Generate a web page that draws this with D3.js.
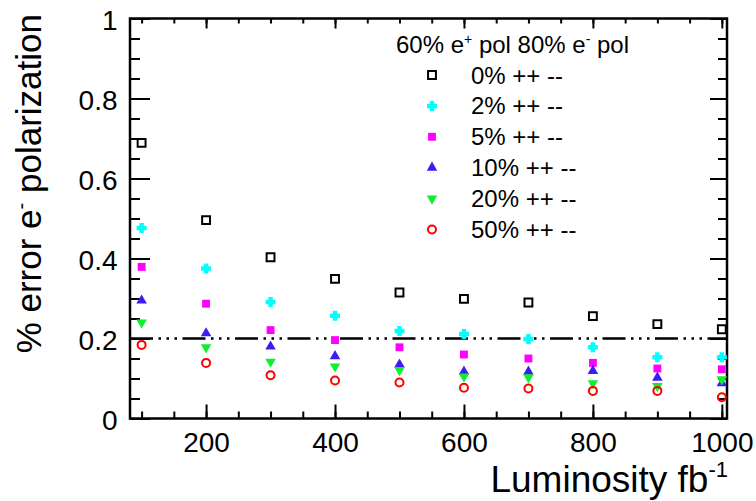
<!DOCTYPE html>
<html>
<head>
<meta charset="utf-8">
<script src="https://cdn.jsdelivr.net/npm/d3@7"></script>
<style>
	body { margin: 0; background: #fff; }
	svg { display: block; font-family: "Liberation Sans", Arial, Helvetica, sans-serif; }
	text { fill: #000; }
</style>
</head>
<body>
<div id="vis"></div>
<script>
// data (error on e- polarization vs luminosity)
var lumi = [100, 200, 300, 400, 500, 600, 700, 800, 900, 1000];
var err0 = [0.689, 0.496, 0.403, 0.349, 0.315, 0.299, 0.290, 0.256, 0.236, 0.223];
var err2 = [0.476, 0.375, 0.291, 0.257, 0.219, 0.211, 0.199, 0.178, 0.153, 0.153];
var err5 = [0.379, 0.287, 0.221, 0.196, 0.178, 0.160, 0.150, 0.139, 0.125, 0.123];
var err10 = [0.295, 0.213, 0.180, 0.156, 0.135, 0.117, 0.117, 0.119, 0.102, 0.088];
var err20 = [0.240, 0.178, 0.142, 0.130, 0.121, 0.105, 0.103, 0.088, 0.081, 0.098];
var err50 = [0.184, 0.139, 0.108, 0.095, 0.090, 0.077, 0.075, 0.069, 0.069, 0.053];

var seriesNames = ['0% ++ --', '2% ++ --', '5% ++ --', '10% ++ --', '20% ++ --', '50% ++ --'];
var seriesValues = [err0, err2, err5, err10, err20, err50];

var xMajor = [200, 400, 600, 800, 1000];
var xMajorLabels = ['200', '400', '600', '800', '1000'];
var yMajor = [0, 0.2, 0.4, 0.6, 0.8, 1];
var yMajorLabels = ['0', '0.2', '0.4', '0.6', '0.8', '1'];
var limitLine = 0.2;

var width = 756, height = 501;

var svg = d3.select('#vis').append('svg')
	.attr('width', width)
	.attr('height', height);

var x = d3.scaleLinear().domain([82, 1008]).range([130, 727]);
var y = d3.scaleLinear().domain([0, 1]).range([418.5, 18.5]);

// fat plus, like ROOT's filled cross marker
var fatCross = {
	draw: function(ctx, size) {
		var r = Math.sqrt(size) / 1.6, a = r * 0.45;
		ctx.moveTo(-r, -a);
		ctx.lineTo(-a, -a);
		ctx.lineTo(-a, -r);
		ctx.lineTo(a, -r);
		ctx.lineTo(a, -a);
		ctx.lineTo(r, -a);
		ctx.lineTo(r, a);
		ctx.lineTo(a, a);
		ctx.lineTo(a, r);
		ctx.lineTo(-a, r);
		ctx.lineTo(-a, a);
		ctx.lineTo(-r, a);
		ctx.closePath();
	}
};

// marker styles, one per series
var markers = [
	{ type: d3.symbolSquare, size: 62, fill: 'none', stroke: '#000' },
	{ type: fatCross, size: 64, fill: '#00ffff', stroke: 'none' },
	{ type: d3.symbolSquare, size: 62, fill: '#ff00ff', stroke: 'none' },
	{ type: d3.symbolTriangle, size: 48, fill: '#3a1cf4', stroke: 'none' },
	{ type: d3.symbolTriangle, size: 48, fill: '#10ee30', stroke: 'none', flip: true },
	{ type: d3.symbolCircle, size: 50, fill: 'none', stroke: '#ff0000' }
];

function styleMarker(sel, m) {
	sel.attr('d', d3.symbol().type(m.type).size(m.size))
		.attr('fill', m.fill)
		.attr('stroke', m.stroke)
		.attr('stroke-width', 2);
}

// axes: ticks drawn inward on all four sides
function tickGroup(axis, tx, ty) {
	var g = svg.append('g')
		.attr('transform', 'translate(' + tx + ',' + ty + ')')
		.call(axis);
	g.select('.domain').remove();
	g.selectAll('.tick line').attr('stroke', '#000').attr('stroke-width', 2);
	return g;
}

var xMinor = d3.range(100, 1001, 50);
var yMinor = d3.range(0, 1.001, 0.05);

tickGroup(d3.axisBottom(x).tickValues(xMinor).tickSize(-7).tickFormat(''), 0, y(0));
tickGroup(d3.axisTop(x).tickValues(xMinor).tickSize(-5).tickFormat(''), 0, y(1));
tickGroup(d3.axisTop(x).tickValues(xMajor).tickSize(-10).tickFormat(''), 0, y(1));
var bottom = tickGroup(d3.axisBottom(x).tickValues(xMajor).tickSize(-14)
	.tickFormat(function(d, i) { return xMajorLabels[i]; }), 0, y(0));
bottom.selectAll('text')
	.attr('y', 13.5)
	.attr('dy', '0.71em')
	.style('font-size', '28px')
	.style('font-family', '"Liberation Sans", Arial, sans-serif');

tickGroup(d3.axisLeft(y).tickValues(yMinor).tickSize(-10).tickFormat(''), x.range()[0], 0);
tickGroup(d3.axisRight(y).tickValues(yMinor).tickSize(-9).tickFormat(''), x.range()[1], 0);
tickGroup(d3.axisRight(y).tickValues(yMajor).tickSize(-17).tickFormat(''), x.range()[1], 0);
var left = tickGroup(d3.axisLeft(y).tickValues(yMajor).tickSize(-20)
	.tickFormat(function(d, i) { return yMajorLabels[i]; }), x.range()[0], 0);
left.selectAll('text')
	.attr('x', -12.5)
	.attr('dy', '0.38em')
	.style('font-size', '28px')
	.style('font-family', '"Liberation Sans", Arial, sans-serif');

// frame
svg.append('rect')
	.attr('x', x.range()[0])
	.attr('y', y(1))
	.attr('width', x.range()[1] - x.range()[0])
	.attr('height', y(0) - y(1))
	.attr('fill', 'none')
	.attr('stroke', '#000')
	.attr('stroke-width', 2.5);

// 0.2 reference line, dash-dot-dot-dot
svg.append('line')
	.attr('x1', x.range()[0])
	.attr('x2', x.range()[1])
	.attr('y1', y(limitLine))
	.attr('y2', y(limitLine))
	.attr('stroke', '#000')
	.attr('stroke-width', 2.5)
	.attr('stroke-dasharray', '23,5.5,2.5,5.5,2.5,5.5,2.5,5.5');

// points
seriesValues.forEach(function(vals, s) {
	var m = markers[s];
	svg.append('g').selectAll('path')
		.data(vals)
		.enter()
		.append('path')
		.attr('transform', function(d, i) {
			return 'translate(' + x(lumi[i]) + ',' + y(d) + ')' + (m.flip ? ' rotate(180)' : '');
		})
		.call(styleMarker, m);
});

// axis titles
var yt = svg.append('text')
	.attr('transform', 'translate(41,14) rotate(-90)')
	.attr('text-anchor', 'end')
	.style('font-size', '35px');
yt.append('tspan').text('% error e');
yt.append('tspan').attr('dy', -13).style('font-size', '20px').text('-');
yt.append('tspan').attr('dy', 13).text(' polarization');

var xt = svg.append('text')
	.attr('x', 728)
	.attr('y', 492)
	.attr('text-anchor', 'end')
	.style('font-size', '37px');
xt.append('tspan').text('Luminosity fb');
xt.append('tspan').attr('dy', -15).style('font-size', '22px').text('-1');

// legend
var lg = svg.append('text')
	.attr('x', 396)
	.attr('y', 53)
	.style('font-size', '24px');
lg.append('tspan').text('60% e');
lg.append('tspan').attr('dy', -9).style('font-size', '14px').text('+');
lg.append('tspan').attr('dy', 9).text(' pol 80% e');
lg.append('tspan').attr('dy', -9).style('font-size', '14px').text('-');
lg.append('tspan').attr('dy', 9).text(' pol');

var rows = svg.append('g').selectAll('g')
	.data(seriesNames)
	.enter()
	.append('g')
	.attr('transform', function(d, i) { return 'translate(0,' + (75 + i * 30.9) + ')'; });

rows.append('path')
	.each(function(d, i) {
		var m = markers[i];
		d3.select(this)
			.attr('transform', 'translate(432,0)' + (m.flip ? ' rotate(180)' : ''))
			.call(styleMarker, m);
	});

rows.append('text')
	.attr('x', 471)
	.attr('y', 8.5)
	.style('font-size', '24px')
	.text(function(d) { return d; });
</script>
</body>
</html>
